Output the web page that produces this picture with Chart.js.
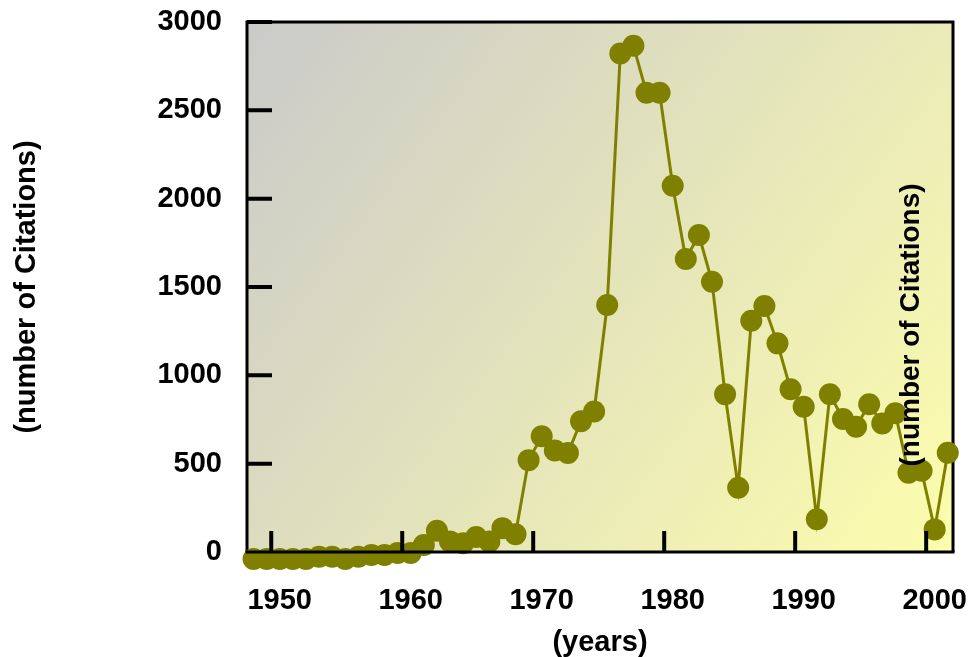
<!DOCTYPE html>
<html>
<head>
<meta charset="utf-8">
<script src="https://cdn.jsdelivr.net/npm/chart.js@4.4.0/dist/chart.umd.min.js"></script>
<style>
  html, body { margin: 0; padding: 0; background: #fff; }
  #wrap { width: 970px; height: 657px; }
</style>
</head>
<body>
<div id="wrap"><canvas id="citationsChart"></canvas></div>
<script>
const years = [1948, 1949, 1950, 1951, 1952, 1953, 1954, 1955, 1956, 1957,
  1958, 1959, 1960, 1961, 1962, 1963, 1964, 1965, 1966, 1967,
  1968, 1969, 1970, 1971, 1972, 1973, 1974, 1975, 1976, 1977,
  1978, 1979, 1980, 1981, 1982, 1983, 1984, 1985, 1986, 1987,
  1988, 1989, 1990, 1991, 1992, 1993, 1994, 1995, 1996, 1997,
  1998, 1999, 2000, 2001];
const citations = [-40, -40, -40, -40, -40, -27, -27, -40, -27, -17,
  -17, -6, -6, 40, 120, 60, 50, 85, 60, 135,
  100, 520, 655, 575, 560, 740, 795, 1398, 2822, 2866,
  2600, 2600, 2073, 1658, 1794, 1530, 893, 364, 1309, 1392,
  1181, 921, 822, 185, 893, 753, 709, 836, 728, 785,
  449, 460, 128, 562];
const yearTicks = [1950, 1960, 1970, 1980, 1990, 2000];
const countTicks = [0, 500, 1000, 1500, 2000, 2500, 3000];

const FONT = "'Liberation Sans', Arial, sans-serif";
const olive = '#808000';

// plot frame, inward ticks, gradient and the stray right-hand title
const framePlugin = {
  id: 'frame',
  beforeDatasetsDraw(chart) {
    const { ctx, chartArea: a, scales } = chart;
    const g = ctx.createLinearGradient(a.left, a.top, a.right, a.bottom);
    g.addColorStop(0, '#cacaca');
    g.addColorStop(1, '#fdfdad');
    ctx.save();
    ctx.fillStyle = g;
    ctx.fillRect(a.left, a.top, a.right - a.left, a.bottom - a.top);
    ctx.strokeStyle = '#000';
    ctx.lineWidth = 3;
    ctx.beginPath();
    ctx.moveTo(a.left, a.bottom);
    ctx.lineTo(a.left, a.top);
    ctx.lineTo(a.right, a.top);
    ctx.lineTo(a.right, a.bottom);
    ctx.stroke();
    ctx.lineWidth = 4;
    ctx.beginPath();
    countTicks.forEach((v) => {
      const py = scales.y.getPixelForValue(v);
      ctx.moveTo(a.left, py);
      ctx.lineTo(a.left + 25, py);
    });
    ctx.stroke();
    ctx.restore();
  },
  afterDatasetsDraw(chart) {
    const { ctx, chartArea: a, scales } = chart;
    ctx.save();
    ctx.strokeStyle = '#000';
    ctx.lineWidth = 3;
    ctx.beginPath();
    ctx.moveTo(a.left - 1.5, a.bottom);
    ctx.lineTo(a.right + 1.5, a.bottom);
    ctx.stroke();
    ctx.lineWidth = 4;
    ctx.beginPath();
    yearTicks.forEach((v) => {
      const px = scales.x.getPixelForValue(v) - 8.5;
      ctx.moveTo(px, a.bottom);
      ctx.lineTo(px, a.bottom - 21);
    });
    ctx.stroke();
    ctx.translate(a.right - 42, a.top + 303);
    ctx.rotate(-Math.PI / 2);
    ctx.fillStyle = '#000';
    ctx.font = 'bold 28px ' + FONT;
    ctx.textAlign = 'center';
    ctx.textBaseline = 'middle';
    ctx.fillText('(number of Citations)', 0, 0);
    ctx.restore();
  }
};

new Chart(document.getElementById('citationsChart'), {
  type: 'line',
  data: {
    datasets: [{
      data: years.map((yr, i) => ({ x: yr, y: citations[i] })),
      borderColor: olive,
      borderWidth: 3,
      backgroundColor: olive,
      pointBackgroundColor: olive,
      pointBorderWidth: 0,
      pointRadius: 11,
      pointHoverRadius: 11,
      tension: 0,
      clip: false
    }]
  },
  options: {
    responsive: true,
    maintainAspectRatio: false,
    animation: false,
    events: [],
    layout: { padding: { left: 0, top: 22, right: 17, bottom: 0 } },
    plugins: { legend: { display: false }, tooltip: { enabled: false } },
    scales: {
      x: {
        type: 'linear',
        min: 1947.5,
        max: 2001.4,
        afterBuildTicks: (s) => { s.ticks = yearTicks.map((v) => ({ value: v })); },
        afterFit: (s) => {
          s.height = 105;
          s.paddingLeft = 0;
          s.paddingRight = 0;
        },
        grid: { display: false, drawTicks: false },
        border: { display: false },
        ticks: {
          color: '#000',
          padding: 32,
          maxRotation: 0,
          autoSkip: false,
          font: { family: FONT, size: 29, weight: 'bold' },
          callback: (v) => String(v)
        },
        title: {
          display: true,
          text: '(years)',
          color: '#000',
          padding: 0,
          font: { family: FONT, size: 29, weight: 'bold', lineHeight: 1 }
        }
      },
      y: {
        min: 0,
        max: 3000,
        afterBuildTicks: (s) => { s.ticks = countTicks.map((v) => ({ value: v })); },
        afterFit: (s) => {
          s.width = 247;
          s.paddingTop = 0;
          s.paddingBottom = 0;
        },
        grid: { display: false, drawTicks: false },
        border: { display: false },
        ticks: {
          color: '#000',
          padding: 25,
          font: { family: FONT, size: 29, weight: 'bold' },
          callback: (v) => String(v)
        },
        title: {
          display: true,
          text: '(number of Citations)',
          color: '#000',
          padding: { top: 12, bottom: 0 },
          font: { family: FONT, size: 29, weight: 'bold', lineHeight: 1 }
        }
      }
    }
  },
  plugins: [framePlugin]
});
</script>
</body>
</html>
